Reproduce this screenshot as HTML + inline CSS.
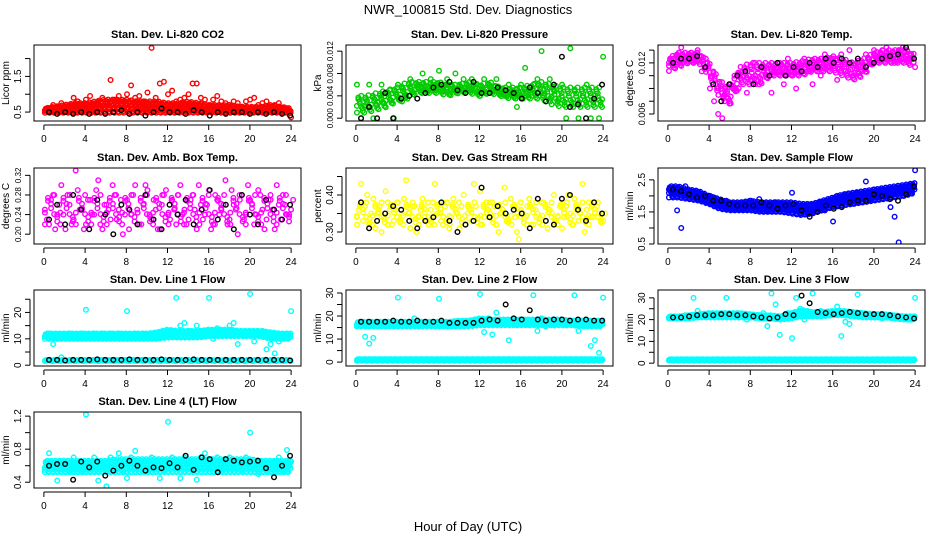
<!DOCTYPE html>
<html><head><meta charset="utf-8"><style>
html,body{margin:0;padding:0;background:#fff;}
svg{display:block;font-family:"Liberation Sans",sans-serif;}
</style></head><body>
<svg id="c" width="936" height="540" xmlns="http://www.w3.org/2000/svg">
<text x="468" y="14" font-size="13" text-anchor="middle">NWR_100815  Std. Dev. Diagnostics</text>
<text x="468" y="531" font-size="13" text-anchor="middle">Hour of Day (UTC)</text>
</svg>
<script>
const xTicks=[0,4,8,12,16,20,24];
// Panel 1 CO2
const co2Scatter=[0.55,0.6,0.7,0.65,0.75,0.6,0.7,0.9,0.8,0.7,0.85,0.95,0.7,0.8,0.9,0.75,1.4,0.85,0.95,0.8,1.0,1.25,0.9,0.95,0.8,1.05,2.3,0.9,1.3,1.35,1.0,1.1,0.8,0.85,0.9,1.0,1.3,1.3,0.9,0.85,0.7,0.85,0.95,0.8,0.75,0.7,0.8,0.75,0.65,0.8,0.85,0.9,0.7,0.75,0.8,0.65,0.7,0.75,0.6,0.55,0.35];
const co2BandLow=[0.48,0.48,0.48,0.48,0.48,0.48,0.48,0.48,0.48,0.48,0.48,0.48,0.48,0.48,0.48,0.48,0.48,0.48,0.48,0.48,0.48,0.48,0.48,0.48,0.48];
const co2BandHigh=[0.6,0.65,0.7,0.75,0.75,0.8,0.85,0.85,0.85,0.8,0.8,0.8,0.75,0.75,0.8,0.75,0.7,0.7,0.7,0.65,0.65,0.65,0.7,0.65,0.6];
const co2Black=[0.5,0.45,0.5,0.45,0.5,0.45,0.5,0.45,0.5,0.55,0.45,0.5,0.4,0.5,0.6,0.5,0.5,0.45,0.55,0.5,0.4,0.5,0.45,0.5,0.5,0.45,0.5,0.45,0.5,0.45,0.4];
// Panel 2 Pressure
const presScatter=[0.006,0.0,0.002,0.006,0.0,0.003,0.006,0.002,0.005,0.0,0.006,0.003,0.004,0.007,0.005,0.006,0.008,0.005,0.007,0.006,0.0085,0.005,0.007,0.006,0.008,0.006,0.007,0.005,0.007,0.006,0.004,0.007,0.006,0.005,0.007,0.005,0.004,0.006,0.005,0.002,0.006,0.009,0.005,0.006,0.007,0.012,0.006,0.007,0.005,0.003,0.006,0.0,0.0125,0.005,0.0,0.004,0.006,0.0,0.004,0.0,0.011];
const presBandLow=[0.001,0.001,0.0015,0.002,0.003,0.0035,0.0045,0.0045,0.0045,0.004,0.0045,0.0045,0.004,0.0045,0.004,0.0035,0.0035,0.0035,0.0035,0.0025,0.002,0.002,0.002,0.002,0.002];
const presBandHigh=[0.004,0.004,0.0045,0.005,0.0055,0.0065,0.0065,0.0065,0.0065,0.006,0.006,0.0065,0.006,0.0065,0.0055,0.0055,0.0055,0.006,0.0065,0.006,0.0055,0.0055,0.0055,0.0055,0.0055];
const presBlack=[0.0,0.002,0.0,0.0045,0.0,0.0035,0.004,0.0035,0.0045,0.0055,0.006,0.0065,0.005,0.0045,0.0065,0.0045,0.0045,0.0055,0.005,0.0045,0.0035,0.0055,0.0045,0.003,0.006,0.011,0.002,0.0025,0.0,0.0035,0.006];
// Panel 3 Temp
const tempScatter=[0.012,0.0125,0.013,0.0138,0.0125,0.013,0.012,0.0135,0.011,0.0125,0.009,0.0075,0.006,0.0055,0.008,0.0095,0.0105,0.009,0.011,0.0085,0.01,0.012,0.0095,0.0115,0.0105,0.0085,0.011,0.012,0.0095,0.0125,0.0105,0.009,0.0115,0.0125,0.011,0.0095,0.012,0.0105,0.013,0.0115,0.0125,0.01,0.013,0.012,0.0135,0.0105,0.012,0.011,0.013,0.012,0.0135,0.0125,0.0135,0.0138,0.013,0.012,0.0135,0.0138,0.0135,0.0125,0.0115];
const tempBandLow=[0.011,0.0115,0.012,0.012,0.0105,0.008,0.007,0.0095,0.0095,0.0095,0.0105,0.0105,0.0105,0.0105,0.011,0.011,0.011,0.0105,0.01,0.0105,0.012,0.012,0.012,0.012,0.0115];
const tempBandHigh=[0.0125,0.0132,0.0132,0.0132,0.012,0.01,0.009,0.0115,0.012,0.012,0.012,0.012,0.012,0.0122,0.0125,0.0125,0.0128,0.0125,0.012,0.0125,0.0132,0.0135,0.0135,0.0135,0.013];
const tempBlack=[0.012,0.0125,0.0125,0.0128,0.0115,0.0095,0.0075,0.0095,0.0105,0.011,0.0095,0.0115,0.0105,0.012,0.0105,0.0115,0.011,0.012,0.0115,0.0125,0.012,0.0125,0.012,0.0125,0.0115,0.012,0.0125,0.0128,0.013,0.0138,0.0125];
// Panel 4 Amb Box Temp
const boxA=[0.25,0.22,0.28,0.24,0.3,0.21,0.26,0.23,0.29,0.25,0.22,0.27,0.24,0.31,0.21,0.26,0.23,0.28,0.25,0.2,0.27,0.24,0.3,0.22,0.26,0.29,0.23,0.25,0.21,0.28,0.24,0.27,0.22,0.3,0.25,0.23,0.28,0.21,0.26,0.24,0.29,0.22,0.27,0.25,0.31,0.23,0.26,0.2,0.28,0.24,0.27,0.22,0.29,0.25,0.23,0.27,0.21,0.26,0.28,0.24,0.25];
const boxB=[0.23,0.27,0.21,0.26,0.24,0.28,0.22,0.33,0.25,0.21,0.27,0.24,0.29,0.22,0.26,0.25,0.3,0.23,0.27,0.24,0.21,0.28,0.25,0.22,0.3,0.24,0.27,0.21,0.26,0.29,0.23,0.25,0.28,0.24,0.22,0.27,0.25,0.3,0.23,0.26,0.21,0.28,0.24,0.26,0.22,0.29,0.25,0.27,0.23,0.3,0.26,0.24,0.28,0.21,0.27,0.25,0.3,0.23,0.26,0.24,0.27];
const boxBandLow=[0.22,0.22,0.22,0.22,0.22,0.22,0.22,0.22,0.22,0.22,0.22,0.22,0.22,0.22,0.22,0.22,0.22,0.22,0.22,0.22,0.22,0.22,0.22,0.22,0.22];
const boxBandHigh=[0.28,0.28,0.28,0.28,0.28,0.28,0.28,0.28,0.28,0.28,0.28,0.28,0.28,0.28,0.28,0.28,0.28,0.28,0.28,0.28,0.28,0.28,0.28,0.28,0.28];
const boxBlack=[0.23,0.26,0.22,0.28,0.25,0.21,0.27,0.24,0.2,0.26,0.25,0.22,0.28,0.23,0.21,0.26,0.24,0.27,0.22,0.25,0.29,0.23,0.26,0.21,0.28,0.24,0.22,0.27,0.25,0.23,0.26];
// Panel 5 RH
const rhA=[0.34,0.43,0.37,0.32,0.39,0.35,0.30,0.41,0.36,0.33,0.38,0.35,0.44,0.31,0.37,0.34,0.39,0.33,0.36,0.43,0.35,0.32,0.38,0.34,0.36,0.31,0.40,0.35,0.33,0.37,0.41,0.34,0.36,0.38,0.32,0.35,0.42,0.33,0.37,0.30,0.36,0.34,0.39,0.32,0.35,0.38,0.33,0.36,0.40,0.34,0.31,0.37,0.35,0.39,0.33,0.43,0.36,0.34,0.38,0.35,0.33];
const rhB=[0.36,0.33,0.40,0.35,0.31,0.37,0.34,0.38,0.32,0.36,0.33,0.39,0.35,0.37,0.30,0.36,0.34,0.32,0.38,0.35,0.33,0.37,0.31,0.39,0.35,0.37,0.33,0.36,0.43,0.34,0.32,0.38,0.35,0.37,0.30,0.36,0.33,0.39,0.34,0.28,0.35,0.37,0.32,0.36,0.34,0.38,0.31,0.35,0.33,0.37,0.34,0.40,0.32,0.36,0.35,0.30,0.38,0.34,0.37,0.33,0.35];
const rhBandLow=[0.32,0.32,0.32,0.32,0.32,0.32,0.32,0.32,0.32,0.32,0.32,0.32,0.32,0.32,0.32,0.32,0.32,0.32,0.32,0.32,0.32,0.32,0.32,0.32,0.32];
const rhBandHigh=[0.38,0.38,0.38,0.38,0.38,0.38,0.38,0.38,0.38,0.38,0.38,0.38,0.38,0.38,0.38,0.38,0.38,0.38,0.38,0.38,0.38,0.38,0.38,0.38,0.38];
const rhBlack=[0.38,0.31,0.33,0.35,0.37,0.36,0.33,0.31,0.33,0.34,0.38,0.33,0.30,0.32,0.33,0.42,0.34,0.37,0.35,0.36,0.35,0.31,0.39,0.33,0.32,0.39,0.40,0.36,0.33,0.38,0.35];
// Panel 6 Sample Flow
const sfScatter=[2.2,2.1,1.55,1.0,2.3,2.1,2.0,2.1,2.05,1.9,2.0,1.95,1.8,1.75,1.85,1.7,1.65,1.7,1.6,1.75,1.85,1.6,1.9,1.7,1.55,1.75,1.8,1.6,1.7,1.55,2.1,1.65,1.45,1.6,1.5,1.55,1.7,1.8,1.55,1.85,1.2,2.0,1.9,2.05,1.95,1.75,2.1,2.05,2.45,1.9,2.2,2.0,2.15,2.1,1.65,1.35,0.55,2.2,2.3,2.25,2.8];
const sfBandLow=[1.95,1.95,1.9,1.85,1.75,1.6,1.55,1.55,1.55,1.5,1.5,1.5,1.45,1.4,1.45,1.55,1.65,1.7,1.75,1.8,1.85,1.9,1.95,2.0,2.1];
const sfBandHigh=[2.3,2.3,2.2,2.15,2.0,1.9,1.8,1.8,1.85,1.8,1.8,1.8,1.8,1.75,1.75,1.85,1.95,2.05,2.1,2.15,2.2,2.25,2.3,2.35,2.4];
const sfBlack=[2.2,2.15,2.05,1.95,2.0,1.85,1.85,1.75,1.7,1.7,1.7,1.8,1.7,1.6,1.7,1.75,1.55,1.35,1.5,1.7,1.6,1.65,1.8,1.85,1.85,2.05,2.0,1.9,1.85,2.05,2.3];
// Panel 7 Line 1
const l1Scatter=[11,12,8,10,3,11,12,11,11,12,21,11,12,11,12,11,12,11,12,11,20.5,11,12,11,12,11,12,11,12,11,13,12,25.5,15,16,13,12,15,13,12,25.5,10,14,13,12,15,16,8,12,11,27,9,12,13,6,8,4.5,9,11,12,20.5];
const l1BandLow=[10,10,10,10,10,10,10,10,10,10,10,10,10.5,10.5,10.5,10.5,11,11,11,11,11,11,10,10,10];
const l1BandHigh=[12,12,12,12,12,12,12,12,12,12,12,12.5,13.5,13,13,13,13.5,13.5,13.5,13,13,13,12.5,12,12];
const l1LowBandLow=[1.6,1.6,1.6,1.6,1.6,1.6,1.6,1.6,1.6,1.6,1.6,1.6,1.6,1.6,1.6,1.6,1.6,1.6,1.6,1.6,1.6,1.6,1.6,1.6,1.6];
const l1LowBandHigh=[2.0,2.0,2.0,2.0,2.0,2.0,2.0,2.0,2.0,2.0,2.0,2.0,2.0,2.0,2.0,2.0,2.0,2.0,2.0,2.0,2.0,2.0,2.0,2.0,2.0];
const l1Black=[2,2,1.8,2,2,2,2.2,2,2,2,2.2,2,2,2,2.2,2,2,2,2.2,2,2,2,2,2,2,2,2,2,2,2,1.8];
// Panel 8 Line 2
const l2Scatter=[16,17,11,8,10.5,16,17,16,17,16,28,17,16,17,19,16,17,16,17,16,27.5,17,16,17,16,17,16,17,16,17,29.5,13,19,12,21.5,17,18,9.5,17,16,17,18,16,29,13.5,19,15.5,17,16,18,17,16,17,29,13.5,17,16,7,9.5,4,28];
const l2BandLow=[15.5,15.5,15.5,15.5,15.5,15.5,15.5,15.5,15.5,15.5,15.5,15.5,16,16,16,16,16,16,16,16,16,16,15.5,15.5,15.5];
const l2BandHigh=[17.5,17.5,17.5,17.5,17.5,17.5,17.5,17.5,17.5,17.5,18,18,19,18.5,18.5,18.5,18.5,18.5,18.5,18.5,18.5,18,18,18,18];
const l2LowBandLow=[0.6,0.6,0.6,0.6,0.6,0.6,0.6,0.6,0.6,0.6,0.6,0.6,0.6,0.6,0.6,0.6,0.6,0.6,0.6,0.6,0.6,0.6,0.6,0.6,0.6];
const l2LowBandHigh=[1.3,1.3,1.3,1.3,1.3,1.3,1.3,1.3,1.3,1.3,1.3,1.3,1.3,1.3,1.3,1.3,1.3,1.3,1.3,1.3,1.3,1.3,1.3,1.3,1.3];
const l2Black=[17.5,17.5,17.5,17.5,18,17.5,17.5,18,17.5,17.5,18,17,17,17,17,18,18.5,18,25,19,18.5,22.5,18.5,18,18.5,18.5,18,18.5,18.5,18,18];
// Panel 9 Line 3
const l3Scatter=[21,21,21,21.5,22,22,30,24,22,22,22.5,22,21.5,22,30,22,21.5,21,22,20,21,22,22,23,17,32,27,13,21,23,11.5,30,25,20,22,32,23,24,23,22,23,26,12.5,19,18,23,31.5,22,22,22,21,21,20.5,21,21,20.5,20.5,21,21,20,30];
const l3BandLow=[20.5,20.5,20.5,21,21,21,21,21,21,20.5,20.5,20,20.5,21.5,21.5,21.5,22,22,21.5,21,21,21,20.5,20,20];
const l3BandHigh=[21.5,21.5,22,22.5,23,23,23,23,22.5,22,22,21.5,23,24.5,23.5,23.5,24,24,23.5,23,22.5,22.5,22,21.5,21.5];
const l3LowBandLow=[1.2,1.2,1.2,1.2,1.2,1.2,1.2,1.2,1.2,1.2,1.2,1.2,1.2,1.2,1.2,1.2,1.2,1.2,1.2,1.2,1.2,1.2,1.2,1.2,1.2];
const l3LowBandHigh=[1.8,1.8,1.8,1.8,1.8,1.8,1.8,1.8,1.8,1.8,1.8,1.8,1.8,1.8,1.8,1.8,1.8,1.8,1.8,1.8,1.8,1.8,1.8,1.8,1.8];
const l3Black=[21,21,21.5,22,22,22,22.5,22.5,22,22,21.5,21,20.5,21,22.5,22,31,27.5,23.5,23,22.5,23,23.5,23,22.5,22.5,22.5,22,21.5,21,20.5];
// Panel 10 Line 4
const l4Scatter=[0.55,0.75,0.6,0.42,0.65,0.6,0.55,0.7,0.6,0.55,1.22,0.65,0.7,0.42,0.6,0.35,0.7,0.65,0.75,0.55,0.45,0.7,0.78,0.6,0.65,0.55,0.7,0.6,0.45,0.55,1.13,0.7,0.6,0.45,0.7,0.65,0.6,0.43,0.7,0.75,0.6,0.65,0.7,0.55,0.65,0.7,0.6,0.65,0.55,0.7,1.0,0.6,0.5,0.65,0.55,0.6,0.65,0.7,0.55,0.79,0.65];
const l4BandLow=[0.52,0.52,0.52,0.52,0.52,0.52,0.52,0.52,0.52,0.52,0.52,0.52,0.52,0.52,0.52,0.52,0.52,0.52,0.52,0.52,0.52,0.52,0.52,0.52,0.52];
const l4BandHigh=[0.66,0.66,0.66,0.66,0.66,0.66,0.66,0.68,0.68,0.68,0.68,0.68,0.68,0.68,0.68,0.68,0.68,0.68,0.68,0.68,0.68,0.66,0.66,0.66,0.66];
const l4Black=[0.6,0.62,0.62,0.43,0.65,0.58,0.65,0.48,0.54,0.6,0.66,0.6,0.54,0.58,0.57,0.63,0.58,0.72,0.55,0.7,0.68,0.52,0.68,0.66,0.64,0.65,0.66,0.57,0.46,0.6,0.72];

const NS="http://www.w3.org/2000/svg";
const svg=document.getElementById('c');
function mk(tag,attrs,parent){const e=document.createElementNS(NS,tag);for(const k in attrs)e.setAttribute(k,attrs[k]);(parent||svg).appendChild(e);return e;}

const colLeft=[34,346,658], rowTop=[45,168,290,412], W=267, H=76;
const XMIN=-0.96, XMAX=24.96;
const levelPattern=[0,0.55,0.25,0.8,1,0.4,0.7,0.1,0.9,0.35];

const panels=[
 {name:'co2',title:'Stan. Dev. Li-820 CO2',ylab:'Licor ppm',col:'#ff0000',ylim:[0.25,2.38],ticks:[0.5,1.0,1.5,2.0],labels:{'0.5':'0.5','1.5':'1.5'},scat:[co2Scatter],bands:[[co2BandLow,co2BandHigh,0.09]],black:co2Black,fs:10},
 {name:'pressure',title:'Stan. Dev. Li-820 Pressure',ylab:'kPa',col:'#00cc00',ylim:[-0.0005,0.0131],ticks:[0,0.004,0.008,0.012],labels:{'0':'0.000','0.004':'0.004','0.008':'0.008','0.012':'0.012'},scat:[presScatter],bands:[[presBandLow,presBandHigh,0.14]],black:presBlack,fs:8},
 {name:'temp',title:'Stan. Dev. Li-820 Temp.',ylab:'degrees C',col:'#ff00ff',ylim:[0.00518,0.0141],ticks:[0.006,0.0075,0.009,0.0105,0.012,0.0135],labels:{'0.006':'0.006','0.012':'0.012'},scat:[tempScatter],bands:[[tempBandLow,tempBandHigh,0.12]],black:tempBlack,fs:9},
 {name:'box-temp',title:'Stan. Dev. Amb. Box Temp.',ylab:'degrees C',col:'#ff00ff',ylim:[0.18,0.335],ticks:[0.20,0.24,0.28,0.32],labels:{'0.2':'0.20','0.24':'0.24','0.28':'0.28','0.32':'0.32'},scat:[boxA,boxB],bands:[[boxBandLow,boxBandHigh,0.3]],black:boxBlack,fs:8},
 {name:'rh',title:'Stan. Dev. Gas Stream RH',ylab:'percent',col:'#ffff00',ylim:[0.2676,0.473],ticks:[0.30,0.35,0.40,0.45],labels:{'0.3':'0.30','0.4':'0.40'},scat:[rhA,rhB],bands:[[rhBandLow,rhBandHigh,0.3]],black:rhBlack,fs:10},
 {name:'sample-flow',title:'Stan. Dev. Sample Flow',ylab:'ml/min',col:'#0000ff',ylim:[0.5,2.87],ticks:[0.5,1.0,1.5,2.0,2.5],labels:{'0.5':'0.5','1.5':'1.5','2.5':'2.5'},scat:[sfScatter],bands:[[sfBandLow,sfBandHigh,0.08]],black:sfBlack,fs:10},
 {name:'line1',title:'Stan. Dev. Line 1 Flow',ylab:'ml/min',col:'#00ffff',ylim:[-0.3,28.5],ticks:[0,5,10,15,20,25],labels:{'0':'0','10':'10','20':'20'},scat:[l1Scatter],bands:[[l1BandLow,l1BandHigh,0.08],[l1LowBandLow,l1LowBandHigh,0.15]],black:l1Black,fs:10},
 {name:'line2',title:'Stan. Dev. Line 2 Flow',ylab:'ml/min',col:'#00ffff',ylim:[-1.7,31.3],ticks:[0,5,10,15,20,25,30],labels:{'0':'0','10':'10','20':'20','30':'30'},scat:[l2Scatter],bands:[[l2BandLow,l2BandHigh,0.08],[l2LowBandLow,l2LowBandHigh,0.1]],black:l2Black,fs:10},
 {name:'line3',title:'Stan. Dev. Line 3 Flow',ylab:'ml/min',col:'#00ffff',ylim:[-1.3,33.6],ticks:[0,5,10,15,20,25,30],labels:{'0':'0','10':'10','20':'20','30':'30'},scat:[l3Scatter],bands:[[l3BandLow,l3BandHigh,0.08],[l3LowBandLow,l3LowBandHigh,0.1]],black:l3Black,fs:10},
 {name:'line4',title:'Stan. Dev. Line 4 (LT) Flow',ylab:'ml/min',col:'#00ffff',ylim:[0.33,1.25],ticks:[0.4,0.6,0.8,1.0,1.2],labels:{'0.4':'0.4','0.8':'0.8','1.2':'1.2'},scat:[l4Scatter],bands:[[l4BandLow,l4BandHigh,0.08]],black:l4Black,fs:10}
];

panels.forEach((p,i)=>{
 const L=colLeft[i%3], T=rowTop[Math.floor(i/3)];
 const g=mk('g',{});
 
 
 const xs=v=>L+(v-XMIN)/(XMAX-XMIN)*W;
 const ys=v=>T+H-(v-p.ylim[0])/(p.ylim[1]-p.ylim[0])*H;
 const clipId='clip'+i;
 const cp=mk('clipPath',{id:clipId},g); mk('rect',{x:L,y:T,width:W,height:H},cp);
 const data=mk('g',{'clip-path':'url(#'+clipId+')'},g);
 p.bands.forEach(b=>{
  const lo=b[0],hi=b[1],step=b[2];const n=lo.length;
  let k=0;
  for(let h=0.1;h<=23.95;h+=step,k++){
   const f=h/24*(n-1);const j=Math.min(n-2,Math.floor(f));const t=f-j;
   const l=lo[j]+(lo[j+1]-lo[j])*t, u=hi[j]+(hi[j+1]-hi[j])*t;
   for(let m=0;m<2;m++){
    const fr=levelPattern[(k*3+m*5)%levelPattern.length];
    const c=mk('circle',{cx:xs(h),cy:ys(l+(u-l)*fr),r:2.3,fill:'none',stroke:p.col,'stroke-width':1.4},data);
    
    
   }
  }
 });
 p.scat.forEach((arr,si)=>{
  const n=arr.length;
  arr.forEach((v,k)=>{
   const x0=0.1+k*23.9/(n-1)+(si?0.2:0);
   const c=mk('circle',{cx:xs(x0),cy:ys(v),r:2.3,fill:'none',stroke:p.col,'stroke-width':1.4},data);
   
   
  });
 });
 const nb=p.black.length;
 p.black.forEach((v,k)=>{
  const x0=0.5+k*23.4/(nb-1);
  const c=mk('circle',{cx:xs(x0),cy:ys(v),r:2.3,fill:'none',stroke:'#000','stroke-width':1.4},data);
  
  
 });
 const bx=mk('rect',{x:L,y:T,width:W,height:H,fill:'none',stroke:'#000','stroke-width':1},g);
 
 
 const t=mk('text',{x:L+W/2,y:T-7,'font-size':11,'font-weight':'bold','text-anchor':'middle'},g);
 t.textContent=p.title;
 
 
 mk('line',{x1:xs(0),x2:xs(24),y1:T+H+4,y2:T+H+4,stroke:'#000'},g);
 xTicks.forEach(v=>{
  mk('line',{x1:xs(v),x2:xs(v),y1:T+H+4,y2:T+H+9,stroke:'#000'},g);
  const tl=mk('text',{x:xs(v),y:T+H+21,'font-size':10,'text-anchor':'middle'},g);
  tl.textContent=v;
  
  
 });
 const y0=ys(p.ticks[0]), y1=ys(p.ticks[p.ticks.length-1]);
 mk('line',{x1:L-4,x2:L-4,y1:y0,y2:y1,stroke:'#000'},g);
 p.ticks.forEach(v=>{
  const yy=ys(v);
  mk('line',{x1:L-9,x2:L-4,y1:yy,y2:yy,stroke:'#000'},g);
  const key=String(v);
  if(p.labels[key]!==undefined){
   const tl=mk('text',{x:L-13,y:yy,'font-size':p.fs,'text-anchor':'middle',transform:'rotate(-90 '+(L-13)+' '+yy+')'},g);
   tl.textContent=p.labels[key];
   
   
  }
 });
 const yl=mk('text',{x:L-25,y:T+H/2,'font-size':10,'text-anchor':'middle',transform:'rotate(-90 '+(L-25)+' '+(T+H/2)+')'},g);
 yl.textContent=p.ylab;
 
 
});
</script>
</body></html>
